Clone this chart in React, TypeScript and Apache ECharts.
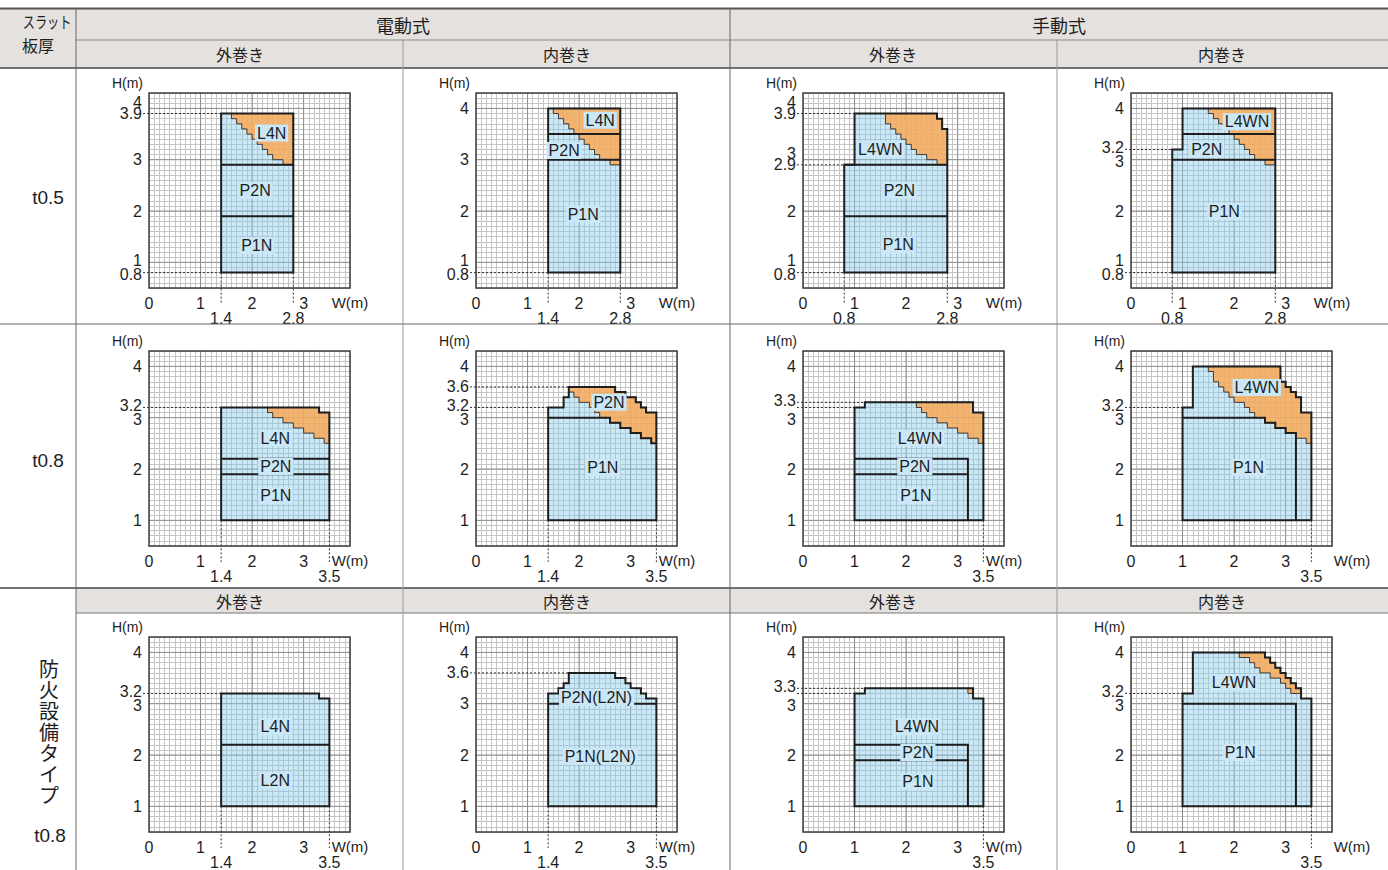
import React, { useEffect, useRef } from "react";
import * as echarts from "echarts";

type P = [number, number];

// ---------------- table texts ----------------
const CORNER_LABELS = ["スラット", "板厚"];
const GROUP_LABELS = ["電動式", "手動式"];
const SUB_LABELS = ["外巻き", "内巻き", "外巻き", "内巻き"];
const ROW_LABELS = ["t0.5", "t0.8"];
const FIRE_LABEL = "防火設備タイプ";
const FIRE_THICKNESS = "t0.8";

// ---------------- axes ----------------
const X_MIN = 0, X_MAX = 3.9, Y_MIN = 0.5, Y_MAX = 4.3;
const X_TICKS = [0, 1, 2, 3];
const Y_TICKS = [1, 2, 3, 4];
const MAJOR_X = [1, 2, 3];
const MAJOR_Y = [1, 2, 3, 4];
const X_NAME = "W(m)";
const Y_NAME = "H(m)";

// ---------------- chart A: 電動式 外巻き t0.5 ----------------
const A_OUTLINE: P[] = [[1.4, 0.8], [2.8, 0.8], [2.8, 3.9], [1.4, 3.9]];
const A_ORANGE: P[] = [[1.6, 3.9], [2.8, 3.9], [2.8, 2.9], [2.6, 2.9], [2.6, 3.0], [2.4, 3.0], [2.4, 3.1], [2.3, 3.1], [2.3, 3.2], [2.2, 3.2], [2.2, 3.3], [2.1, 3.3], [2.1, 3.4], [2.0, 3.4], [2.0, 3.5], [1.9, 3.5], [1.9, 3.6], [1.8, 3.6], [1.8, 3.7], [1.7, 3.7], [1.7, 3.8], [1.6, 3.8]];
const A_LINES: P[][] = [[[1.4, 2.9], [2.8, 2.9]], [[1.4, 1.9], [2.8, 1.9]]];
const A_LABELS: [string, number, number][] = [["L4N", 2.38, 3.52], ["P2N", 2.06, 2.4], ["P1N", 2.09, 1.33]];
const A_HREF: P[] = [[3.9, 1.4], [0.8, 1.4]];
const A_VREF: P[] = [[1.4, 0.8], [2.8, 0.8]];
const A_YEXTRA = [3.9, 0.8];
const A_XEXTRA = [1.4, 2.8];

// ---------------- chart B: 電動式 内巻き t0.5 ----------------
const B_OUTLINE: P[] = [[1.4, 0.8], [2.8, 0.8], [2.8, 4.0], [1.4, 4.0]];
const B_ORANGE: P[] = [[1.5, 4.0], [2.8, 4.0], [2.8, 2.9], [2.6, 2.9], [2.6, 3.0], [2.4, 3.0], [2.4, 3.1], [2.3, 3.1], [2.3, 3.2], [2.2, 3.2], [2.2, 3.3], [2.1, 3.3], [2.1, 3.4], [2.0, 3.4], [2.0, 3.5], [1.9, 3.5], [1.9, 3.6], [1.8, 3.6], [1.8, 3.7], [1.7, 3.7], [1.7, 3.8], [1.6, 3.8], [1.6, 3.9], [1.5, 3.9]];
const B_LINES: P[][] = [[[1.4, 3.5], [2.8, 3.5]], [[1.4, 3.0], [2.8, 3.0]]];
const B_LABELS: [string, number, number][] = [["L4N", 2.41, 3.77], ["P2N", 1.71, 3.18], ["P1N", 2.08, 1.94]];
const B_HREF: P[] = [[0.8, 1.4]];
const B_VREF: P[] = [[1.4, 0.8], [2.8, 0.8]];
const B_YEXTRA = [0.8];
const B_XEXTRA = [1.4, 2.8];

// ---------------- chart C: 手動式 外巻き t0.5 ----------------
const C_OUTLINE: P[] = [[0.8, 0.8], [2.8, 0.8], [2.8, 3.6], [2.7, 3.6], [2.7, 3.8], [2.6, 3.8], [2.6, 3.9], [1.0, 3.9], [1.0, 2.9], [0.8, 2.9]];
const C_ORANGE: P[] = [[1.6, 3.9], [2.6, 3.9], [2.6, 3.8], [2.7, 3.8], [2.7, 3.6], [2.8, 3.6], [2.8, 2.9], [2.6, 2.9], [2.6, 3.0], [2.4, 3.0], [2.4, 3.1], [2.2, 3.1], [2.2, 3.2], [2.1, 3.2], [2.1, 3.3], [2.0, 3.3], [2.0, 3.4], [1.9, 3.4], [1.9, 3.5], [1.8, 3.5], [1.8, 3.6], [1.7, 3.6], [1.7, 3.7], [1.6, 3.7]];
const C_LINES: P[][] = [[[0.8, 2.9], [2.8, 2.9]], [[0.8, 1.9], [2.8, 1.9]]];
const C_LABELS: [string, number, number][] = [["L4WN", 1.5, 3.2], ["P2N", 1.87, 2.4], ["P1N", 1.85, 1.34]];
const C_HREF: P[] = [[3.9, 1.0], [2.9, 0.8], [0.8, 0.8]];
const C_VREF: P[] = [[0.8, 0.8], [2.8, 0.8]];
const C_YEXTRA = [3.9, 2.9, 0.8];
const C_XEXTRA = [0.8, 2.8];

// ---------------- chart D: 手動式 内巻き t0.5 ----------------
const D_OUTLINE: P[] = [[0.8, 0.8], [2.8, 0.8], [2.8, 4.0], [1.0, 4.0], [1.0, 3.2], [0.8, 3.2]];
const D_ORANGE: P[] = [[1.5, 4.0], [2.8, 4.0], [2.8, 2.9], [2.6, 2.9], [2.6, 3.0], [2.4, 3.0], [2.4, 3.1], [2.3, 3.1], [2.3, 3.2], [2.2, 3.2], [2.2, 3.3], [2.1, 3.3], [2.1, 3.4], [2.0, 3.4], [2.0, 3.5], [1.9, 3.5], [1.9, 3.6], [1.8, 3.6], [1.8, 3.7], [1.7, 3.7], [1.7, 3.8], [1.6, 3.8], [1.6, 3.9], [1.5, 3.9]];
const D_LINES: P[][] = [[[1.0, 3.5], [2.8, 3.5]], [[0.8, 3.0], [2.8, 3.0]]];
const D_LABELS: [string, number, number][] = [["L4WN", 2.25, 3.74], ["P2N", 1.47, 3.2], ["P1N", 1.81, 1.99]];
const D_HREF: P[] = [[3.2, 0.8], [0.8, 0.8]];
const D_VREF: P[] = [[0.8, 0.8], [2.8, 0.8]];
const D_YEXTRA = [3.2, 0.8];
const D_XEXTRA = [0.8, 2.8];

// ---------------- chart E: 電動式 外巻き t0.8 ----------------
const E_OUTLINE: P[] = [[1.4, 1.0], [3.5, 1.0], [3.5, 3.1], [3.3, 3.1], [3.3, 3.2], [1.4, 3.2]];
const E_ORANGE: P[] = [[2.3, 3.2], [3.3, 3.2], [3.3, 3.1], [3.5, 3.1], [3.5, 2.5], [3.4, 2.5], [3.4, 2.6], [3.2, 2.6], [3.2, 2.7], [3.0, 2.7], [3.0, 2.8], [2.8, 2.8], [2.8, 2.9], [2.6, 2.9], [2.6, 3.0], [2.4, 3.0], [2.4, 3.1], [2.3, 3.1]];
const E_LINES: P[][] = [[[1.4, 2.2], [3.5, 2.2]], [[1.4, 1.9], [3.5, 1.9]]];
const E_LABELS: [string, number, number][] = [["L4N", 2.45, 2.6], ["P2N", 2.46, 2.05], ["P1N", 2.46, 1.48]];
const E_HREF: P[] = [[3.2, 1.4]];
const E_VREF: P[] = [[1.4, 1.0], [3.5, 1.0]];
const E_YEXTRA = [3.2];
const E_XEXTRA = [1.4, 3.5];

// ---------------- chart F: 電動式 内巻き t0.8 ----------------
const F_OUTLINE: P[] = [[1.4, 1.0], [3.5, 1.0], [3.5, 3.1], [3.3, 3.1], [3.3, 3.2], [3.2, 3.2], [3.2, 3.3], [3.1, 3.3], [3.1, 3.4], [2.9, 3.4], [2.9, 3.5], [2.7, 3.5], [2.7, 3.6], [1.8, 3.6], [1.8, 3.4], [1.7, 3.4], [1.7, 3.2], [1.4, 3.2]];
const F_ORANGE: P[] = [[1.8, 3.6], [2.7, 3.6], [2.7, 3.5], [2.9, 3.5], [2.9, 3.4], [3.1, 3.4], [3.1, 3.3], [3.2, 3.3], [3.2, 3.2], [3.3, 3.2], [3.3, 3.1], [3.5, 3.1], [3.5, 2.5], [3.4, 2.5], [3.4, 2.6], [3.2, 2.6], [3.2, 2.7], [3.0, 2.7], [3.0, 2.8], [2.8, 2.8], [2.8, 2.9], [2.6, 2.9], [2.6, 3.0], [2.4, 3.0], [2.4, 3.1], [2.3, 3.1], [2.3, 3.2], [2.2, 3.2], [2.2, 3.3], [2.0, 3.3], [2.0, 3.4], [1.9, 3.4], [1.9, 3.5], [1.8, 3.5]];
const F_LINES: P[][] = [[[1.4, 3.0], [2.6, 3.0], [2.6, 2.9], [2.8, 2.9], [2.8, 2.8], [3.0, 2.8], [3.0, 2.7], [3.2, 2.7], [3.2, 2.6], [3.4, 2.6], [3.4, 2.5], [3.5, 2.5]]];
const F_LABELS: [string, number, number][] = [["P2N", 2.58, 3.3], ["P1N", 2.46, 2.03]];
const F_HREF: P[] = [[3.6, 1.8], [3.2, 1.4]];
const F_VREF: P[] = [[1.4, 1.0], [3.5, 1.0]];
const F_YEXTRA = [3.6, 3.2];
const F_XEXTRA = [1.4, 3.5];

// ---------------- chart G: 手動式 外巻き t0.8 ----------------
const G_OUTLINE: P[] = [[1.0, 1.0], [3.5, 1.0], [3.5, 3.1], [3.3, 3.1], [3.3, 3.3], [1.2, 3.3], [1.2, 3.2], [1.0, 3.2]];
const G_ORANGE: P[] = [[2.2, 3.3], [3.3, 3.3], [3.3, 3.1], [3.5, 3.1], [3.5, 2.5], [3.4, 2.5], [3.4, 2.6], [3.2, 2.6], [3.2, 2.7], [3.0, 2.7], [3.0, 2.8], [2.8, 2.8], [2.8, 2.9], [2.6, 2.9], [2.6, 3.0], [2.4, 3.0], [2.4, 3.1], [2.3, 3.1], [2.3, 3.2], [2.2, 3.2]];
const G_LINES: P[][] = [[[1.0, 2.2], [3.2, 2.2], [3.2, 1.0]], [[1.0, 1.9], [3.2, 1.9]]];
const G_LABELS: [string, number, number][] = [["L4WN", 2.27, 2.6], ["P2N", 2.17, 2.05], ["P1N", 2.19, 1.48]];
const G_HREF: P[] = [[3.3, 1.2], [3.2, 1.0]];
const G_VREF: P[] = [[3.5, 1.0]];
const G_YEXTRA = [3.3, 3.2];
const G_XEXTRA = [3.5];

// ---------------- chart H: 手動式 内巻き t0.8 ----------------
const H_OUTLINE: P[] = [[1.0, 1.0], [3.5, 1.0], [3.5, 3.1], [3.3, 3.1], [3.3, 3.4], [3.2, 3.4], [3.2, 3.5], [3.1, 3.5], [3.1, 3.6], [3.0, 3.6], [3.0, 3.7], [2.9, 3.7], [2.9, 4.0], [1.2, 4.0], [1.2, 3.2], [1.0, 3.2]];
const H_ORANGE: P[] = [[1.5, 4.0], [2.9, 4.0], [2.9, 3.7], [3.0, 3.7], [3.0, 3.6], [3.1, 3.6], [3.1, 3.5], [3.2, 3.5], [3.2, 3.4], [3.3, 3.4], [3.3, 3.1], [3.5, 3.1], [3.5, 2.5], [3.4, 2.5], [3.4, 2.6], [3.2, 2.6], [3.2, 2.7], [3.0, 2.7], [3.0, 2.8], [2.8, 2.8], [2.8, 2.9], [2.6, 2.9], [2.6, 3.0], [2.4, 3.0], [2.4, 3.1], [2.3, 3.1], [2.3, 3.2], [2.2, 3.2], [2.2, 3.3], [2.0, 3.3], [2.0, 3.4], [1.9, 3.4], [1.9, 3.5], [1.8, 3.5], [1.8, 3.6], [1.7, 3.6], [1.7, 3.7], [1.6, 3.7], [1.6, 3.9], [1.5, 3.9]];
const H_LINES: P[][] = [[[1.0, 3.0], [2.6, 3.0], [2.6, 2.9], [2.8, 2.9], [2.8, 2.8], [3.0, 2.8], [3.0, 2.7], [3.2, 2.7], [3.2, 1.0]]];
const H_LABELS: [string, number, number][] = [["L4WN", 2.44, 3.59], ["P1N", 2.28, 2.03]];
const H_HREF: P[] = [[3.2, 1.0]];
const H_VREF: P[] = [[3.5, 1.0]];
const H_YEXTRA = [3.2];
const H_XEXTRA = [3.5];

// ---------------- chart I: 防火 外巻き ----------------
const I_OUTLINE: P[] = [[1.4, 1.0], [3.5, 1.0], [3.5, 3.1], [3.3, 3.1], [3.3, 3.2], [1.4, 3.2]];
const I_LINES: P[][] = [[[1.4, 2.2], [3.5, 2.2]]];
const I_LABELS: [string, number, number][] = [["L4N", 2.45, 2.55], ["L2N", 2.45, 1.5]];
const I_HREF: P[] = [[3.2, 1.4]];
const I_VREF: P[] = [[1.4, 1.0], [3.5, 1.0]];
const I_YEXTRA = [3.2];
const I_XEXTRA = [1.4, 3.5];

// ---------------- chart J: 防火 内巻き ----------------
const J_OUTLINE: P[] = [[1.4, 1.0], [3.5, 1.0], [3.5, 3.1], [3.3, 3.1], [3.3, 3.2], [3.2, 3.2], [3.2, 3.3], [3.0, 3.3], [3.0, 3.4], [2.9, 3.4], [2.9, 3.5], [2.7, 3.5], [2.7, 3.6], [1.8, 3.6], [1.8, 3.4], [1.7, 3.4], [1.7, 3.3], [1.6, 3.3], [1.6, 3.2], [1.4, 3.2]];
const J_LINES: P[][] = [[[1.4, 3.0], [3.5, 3.0]]];
const J_LABELS: [string, number, number][] = [["P2N(L2N)", 2.34, 3.12], ["P1N(L2N)", 2.41, 1.97]];
const J_HREF: P[] = [[3.6, 1.8]];
const J_VREF: P[] = [[1.4, 1.0], [3.5, 1.0]];
const J_YEXTRA = [3.6];
const J_XEXTRA = [1.4, 3.5];

// ---------------- chart K: 防火 手動 外巻き ----------------
const K_OUTLINE: P[] = [[1.0, 1.0], [3.5, 1.0], [3.5, 3.1], [3.3, 3.1], [3.3, 3.3], [1.2, 3.3], [1.2, 3.2], [1.0, 3.2]];
const K_ORANGE: P[] = [[3.2, 3.3], [3.3, 3.3], [3.3, 3.2], [3.2, 3.2]];
const K_LINES: P[][] = [[[1.0, 2.2], [3.2, 2.2], [3.2, 1.0]], [[1.0, 1.9], [3.2, 1.9]]];
const K_LABELS: [string, number, number][] = [["L4WN", 2.21, 2.55], ["P2N", 2.23, 2.05], ["P1N", 2.23, 1.48]];
const K_HREF: P[] = [[3.3, 1.2], [3.2, 1.0]];
const K_VREF: P[] = [[3.5, 1.0]];
const K_YEXTRA = [3.3, 3.2];
const K_XEXTRA = [3.5];

// ---------------- chart L: 防火 手動 内巻き ----------------
const L_OUTLINE: P[] = [[1.0, 1.0], [3.5, 1.0], [3.5, 3.1], [3.3, 3.1], [3.3, 3.3], [3.2, 3.3], [3.2, 3.4], [3.1, 3.4], [3.1, 3.5], [3.0, 3.5], [3.0, 3.6], [2.9, 3.6], [2.9, 3.7], [2.8, 3.7], [2.8, 3.8], [2.7, 3.8], [2.7, 3.9], [2.6, 3.9], [2.6, 4.0], [1.2, 4.0], [1.2, 3.2], [1.0, 3.2]];
const L_ORANGE: P[] = [[2.1, 4.0], [2.6, 4.0], [2.6, 3.9], [2.7, 3.9], [2.7, 3.8], [2.8, 3.8], [2.8, 3.7], [2.9, 3.7], [2.9, 3.6], [3.0, 3.6], [3.0, 3.5], [3.1, 3.5], [3.1, 3.4], [3.2, 3.4], [3.2, 3.3], [3.3, 3.3], [3.3, 3.2], [3.1, 3.2], [3.1, 3.3], [3.0, 3.3], [3.0, 3.4], [2.9, 3.4], [2.9, 3.5], [2.7, 3.5], [2.7, 3.6], [2.5, 3.6], [2.5, 3.7], [2.4, 3.7], [2.4, 3.8], [2.3, 3.8], [2.3, 3.9], [2.1, 3.9]];
const L_LINES: P[][] = [[[1.0, 3.0], [3.2, 3.0], [3.2, 1.0]]];
const L_LABELS: [string, number, number][] = [["L4WN", 2.0, 3.41], ["P1N", 2.12, 2.05]];
const L_HREF: P[] = [[3.2, 1.0]];
const L_VREF: P[] = [[3.5, 1.0]];
const L_YEXTRA = [3.2];
const L_XEXTRA = [3.5];

type Chart = {
  outline: P[]; orange?: P[]; lines: P[][]; labels: [string, number, number][];
  href: P[]; vref: P[]; yExtra: number[]; xExtra: number[];
};

const CHARTS: Chart[] = [
  { outline: A_OUTLINE, orange: A_ORANGE, lines: A_LINES, labels: A_LABELS, href: A_HREF, vref: A_VREF, yExtra: A_YEXTRA, xExtra: A_XEXTRA },
  { outline: B_OUTLINE, orange: B_ORANGE, lines: B_LINES, labels: B_LABELS, href: B_HREF, vref: B_VREF, yExtra: B_YEXTRA, xExtra: B_XEXTRA },
  { outline: C_OUTLINE, orange: C_ORANGE, lines: C_LINES, labels: C_LABELS, href: C_HREF, vref: C_VREF, yExtra: C_YEXTRA, xExtra: C_XEXTRA },
  { outline: D_OUTLINE, orange: D_ORANGE, lines: D_LINES, labels: D_LABELS, href: D_HREF, vref: D_VREF, yExtra: D_YEXTRA, xExtra: D_XEXTRA },
  { outline: E_OUTLINE, orange: E_ORANGE, lines: E_LINES, labels: E_LABELS, href: E_HREF, vref: E_VREF, yExtra: E_YEXTRA, xExtra: E_XEXTRA },
  { outline: F_OUTLINE, orange: F_ORANGE, lines: F_LINES, labels: F_LABELS, href: F_HREF, vref: F_VREF, yExtra: F_YEXTRA, xExtra: F_XEXTRA },
  { outline: G_OUTLINE, orange: G_ORANGE, lines: G_LINES, labels: G_LABELS, href: G_HREF, vref: G_VREF, yExtra: G_YEXTRA, xExtra: G_XEXTRA },
  { outline: H_OUTLINE, orange: H_ORANGE, lines: H_LINES, labels: H_LABELS, href: H_HREF, vref: H_VREF, yExtra: H_YEXTRA, xExtra: H_XEXTRA },
  { outline: I_OUTLINE, lines: I_LINES, labels: I_LABELS, href: I_HREF, vref: I_VREF, yExtra: I_YEXTRA, xExtra: I_XEXTRA },
  { outline: J_OUTLINE, lines: J_LINES, labels: J_LABELS, href: J_HREF, vref: J_VREF, yExtra: J_YEXTRA, xExtra: J_XEXTRA },
  { outline: K_OUTLINE, orange: K_ORANGE, lines: K_LINES, labels: K_LABELS, href: K_HREF, vref: K_VREF, yExtra: K_YEXTRA, xExtra: K_XEXTRA },
  { outline: L_OUTLINE, orange: L_ORANGE, lines: L_LINES, labels: L_LABELS, href: L_HREF, vref: L_VREF, yExtra: L_YEXTRA, xExtra: L_XEXTRA },
];

// ---------------- layout & style ----------------
const GRID_LEFT = [149, 476, 803, 1131];
const GRID_TOP = [93, 351, 637];
const GRID_W = 201;
const GRID_H = 195;
const COL_CENTER = [240, 567, 893, 1222];
const W_NAME_PAD_LEFT = [0, 0, 0, 0, 0, 0, 0, 40, 0, 0, 0, 40];
const FONT = '"Liberation Sans", Arial, sans-serif';
const JP = '"Noto Sans CJK JP", sans-serif';
const INK = "#1e1e1e";
const BLUE_FILL = "rgba(140,205,238,0.45)";
const ORANGE_FILL = "rgba(250,168,82,0.82)";
const LABEL_BG = "#c9e7f6";
const MINOR = "#c4c4c4";
const MAJOR = "#8e8e8e";
const TICK_SIZE = 16;

const fmt = (v: number) => String(Math.round(v * 10) / 10);

// vertical nudges (px) for tick labels that sit very close to one another
function yShiftToken(v: number, all: number[]): string {
  const near = all.filter((s) => Math.abs(s - v) > 1e-6 && Math.abs(s - v) < 0.25);
  if (!near.length) return "";
  near.sort((a, b) => Math.abs(a - v) - Math.abs(b - v));
  const o = near[0];
  const close = Math.abs(o - v) < 0.15;
  const vInt = Y_TICKS.includes(v);
  const oInt = Y_TICKS.includes(o);
  if (!close) return v > o ? "u2" : "d2";
  if (!vInt && oInt) return "";
  const big = vInt && !oInt;
  if (v > o) return big ? "u6" : "u2";
  return big ? "d6" : "d2";
}

function elementsFor(c: Chart) {
  const e: any[] = [];
  MAJOR_X.forEach((v) => e.push({ k: "mx", v }));
  MAJOR_Y.forEach((v) => e.push({ k: "my", v }));
  e.push({ k: "fill", pts: c.outline });
  if (c.orange) e.push({ k: "orange", pts: c.orange });
  c.lines.forEach((pts) => e.push({ k: "line", pts }));
  e.push({ k: "outline", pts: c.outline });
  c.href.forEach(([v, to]) => e.push({ k: "hdash", v, to }));
  c.vref.forEach(([v, from]) => e.push({ k: "vdash", v, from }));
  c.labels.forEach(([t, x, y]) => e.push({ k: "label", t, x, y }));
  e.push({ k: "frame" });
  return e;
}

function makeRender(elems: any[]) {
  return (params: any, api: any) => {
    const el = elems[params.dataIndex];
    if (!el) return null;
    const line = (x1: number, y1: number, x2: number, y2: number, style: any, z2: number) => ({
      type: "line", shape: { x1, y1, x2, y2 }, style, z2, silent: true,
    });
    switch (el.k) {
      case "mx": {
        const a = api.coord([el.v, Y_MIN]);
        const b = api.coord([el.v, Y_MAX]);
        return line(a[0], a[1], b[0], b[1], { stroke: MAJOR, lineWidth: 1 }, 1);
      }
      case "my": {
        const a = api.coord([X_MIN, el.v]);
        const b = api.coord([X_MAX, el.v]);
        return line(a[0], a[1], b[0], b[1], { stroke: MAJOR, lineWidth: 1 }, 1);
      }
      case "fill":
        return { type: "polygon", shape: { points: el.pts.map((p: P) => api.coord(p)) }, style: { fill: BLUE_FILL }, z2: 2 };
      case "orange":
        return { type: "polygon", shape: { points: el.pts.map((p: P) => api.coord(p)) }, style: { fill: ORANGE_FILL, stroke: "#3a3a3a", lineWidth: 1 }, z2: 3 };
      case "line":
        return { type: "polyline", shape: { points: el.pts.map((p: P) => api.coord(p)) }, style: { fill: "none", stroke: INK, lineWidth: 2 }, z2: 4 };
      case "outline":
        return { type: "polygon", shape: { points: el.pts.map((p: P) => api.coord(p)) }, style: { fill: "none", stroke: INK, lineWidth: 2 }, z2: 5 };
      case "hdash": {
        const a = api.coord([X_MIN, el.v]);
        const b = api.coord([el.to, el.v]);
        return line(a[0] - 6, a[1], b[0], b[1], { stroke: "#333", lineWidth: 1, lineDash: [2, 2] }, 6);
      }
      case "vdash": {
        const a = api.coord([el.v, el.from]);
        const b = api.coord([el.v, Y_MIN]);
        return line(a[0], a[1], b[0], b[1] + 16, { stroke: "#333", lineWidth: 1, lineDash: [2, 2] }, 6);
      }
      case "label": {
        const p = api.coord([el.x, el.y]);
        return {
          type: "text", x: p[0], y: p[1], z2: 7,
          style: {
            text: el.t, fill: INK, fontSize: 16, fontFamily: FONT,
            align: "center", verticalAlign: "middle",
            backgroundColor: LABEL_BG, padding: [1, 2, 0, 2],
          },
        };
      }
      case "frame": {
        const a = api.coord([X_MIN, Y_MAX]);
        const b = api.coord([X_MAX, Y_MIN]);
        return { type: "rect", shape: { x: a[0], y: a[1], width: b[0] - a[0], height: b[1] - a[1] }, style: { fill: "none", stroke: "#3c3c3c", lineWidth: 1.5 }, z2: 8 };
      }
    }
    return null;
  };
}

function buildOption() {
  const grid: any[] = [];
  const xAxis: any[] = [];
  const yAxis: any[] = [];
  const series: any[] = [];
  const labelStyle = { color: INK, fontSize: TICK_SIZE, fontFamily: FONT };

  CHARTS.forEach((c, i) => {
    const row = Math.floor(i / 4);
    const col = i % 4;
    grid.push({ left: GRID_LEFT[col], top: GRID_TOP[row], width: GRID_W, height: GRID_H, show: false });
    xAxis.push({
      gridIndex: i, type: "value", position: "bottom", min: X_MIN, max: X_MAX, interval: 0.1,
      axisLine: { show: false, onZero: false }, axisTick: { show: false },
      splitLine: { show: true, lineStyle: { color: MINOR, width: 1 } },
      axisLabel: { ...labelStyle, customValues: X_TICKS, margin: 7, hideOverlap: false, formatter: (v: number) => fmt(v) },
      name: X_NAME, nameLocation: "end", nameGap: 0,
      nameTextStyle: { color: INK, fontFamily: FONT, fontSize: 15, align: "center", verticalAlign: "top", padding: [7, 0, 0, W_NAME_PAD_LEFT[i]] },
    });
    xAxis.push({
      gridIndex: i, type: "value", position: "bottom", offset: 15, min: X_MIN, max: X_MAX, interval: 0.1,
      axisLine: { show: false, onZero: false }, axisTick: { show: false }, splitLine: { show: false },
      axisLabel: { ...labelStyle, customValues: c.xExtra, margin: 7, hideOverlap: false, formatter: (v: number) => fmt(v) },
    });
    const yVals = [...Y_TICKS, ...c.yExtra];
    yAxis.push({
      gridIndex: i, type: "value", position: "left", min: Y_MIN, max: Y_MAX, interval: 0.1,
      axisLine: { show: false, onZero: false }, axisTick: { show: false },
      splitLine: { show: true, lineStyle: { color: MINOR, width: 1 } },
      axisLabel: {
        ...labelStyle, customValues: yVals, margin: 7, hideOverlap: false,
        formatter: (v: number) => {
          const t = yShiftToken(v, yVals);
          return t ? `{${t}|${fmt(v)}}` : fmt(v);
        },
        rich: {
          u6: { ...labelStyle, padding: [0, 0, 12, 0] },
          d6: { ...labelStyle, padding: [12, 0, 0, 0] },
          u2: { ...labelStyle, padding: [0, 0, 4, 0] },
          d2: { ...labelStyle, padding: [4, 0, 0, 0] },
        },
      },
      name: Y_NAME, nameLocation: "end", nameGap: 3,
      nameTextStyle: { color: INK, fontSize: 14, fontFamily: FONT, align: "right", verticalAlign: "bottom", padding: [0, 6, 0, 0] },
    });
    const elems = elementsFor(c);
    series.push({
      type: "custom", xAxisIndex: 2 * i, yAxisIndex: i, clip: false, silent: true,
      renderItem: makeRender(elems),
      data: elems.map(() => [1, 1]),
    });
  });

  // ---------------- table graphics ----------------
  const g: any[] = [];
  const rect = (x: number, y: number, w: number, h: number, fill: string) =>
    g.push({ type: "rect", shape: { x, y, width: w, height: h }, style: { fill }, silent: true, z: -5 });
  const hline = (x1: number, x2: number, y: number, color: string, w: number) =>
    g.push({ type: "line", shape: { x1, y1: y, x2, y2: y }, style: { stroke: color, lineWidth: w }, silent: true, z: 10 });
  const vline = (x: number, y1: number, y2: number, color: string, w: number) =>
    g.push({ type: "line", shape: { x1: x, y1, x2: x, y2 }, style: { stroke: color, lineWidth: w }, silent: true, z: 10 });
  const text = (t: string, x: number, y: number, size: number, family: string, extra: any = {}) =>
    g.push({ type: "text", x, y, silent: true, z: 11, ...extra, style: { text: t, fill: INK, fontSize: size, fontFamily: family, align: "center", verticalAlign: "middle", ...(extra.style || {}) } });

  rect(0, 8, 1388, 60, "#e4e1de");
  rect(76, 588, 1312, 25, "#e4e1de");

  hline(0, 1388, 8.5, "#555", 2);
  hline(76, 1388, 40, "#8a8a8a", 1);
  hline(0, 1388, 68, "#444", 1.5);
  hline(0, 1388, 324, "#666", 1);
  hline(0, 1388, 588, "#444", 1.5);
  hline(76, 1388, 613, "#777", 1);
  vline(76, 8, 870, "#666", 1);
  vline(730, 8, 870, "#666", 1);
  vline(403, 40, 870, "#999", 1);
  vline(1057, 40, 870, "#999", 1);

  text(CORNER_LABELS[0], 38, 21, 16, JP, { scaleX: 0.76, originX: 38, originY: 21 });
  text(CORNER_LABELS[1], 38, 45, 16, JP);
  text(GROUP_LABELS[0], 403, 25, 18, JP);
  text(GROUP_LABELS[1], 1059, 25, 18, JP);
  SUB_LABELS.forEach((s, j) => {
    text(s, COL_CENTER[j], 54, 16, JP);
    text(s, COL_CENTER[j], 601, 16, JP);
  });
  text(ROW_LABELS[0], 48, 197, 19, FONT);
  text(ROW_LABELS[1], 48, 460, 19, FONT);
  text(FIRE_LABEL.split("").join("\n"), 49, 731, 20, JP, { style: { lineHeight: 21 } });
  text(FIRE_THICKNESS, 50, 835, 19, FONT);

  return {
    animation: false,
    backgroundColor: "#ffffff",
    grid, xAxis, yAxis, series,
    graphic: { elements: g },
  };
}

export default function App() {
  const ref = useRef<HTMLDivElement>(null);
  useEffect(() => {
    const chart = echarts.init(ref.current!, null, { renderer: "svg" });
    chart.setOption(buildOption() as any);
    return () => chart.dispose();
  }, []);
  return (
    <div
      ref={ref}
      style={{ position: "absolute", left: 0, top: 0, width: 1388, height: 870, background: "#fff" }}
    />
  );
}
